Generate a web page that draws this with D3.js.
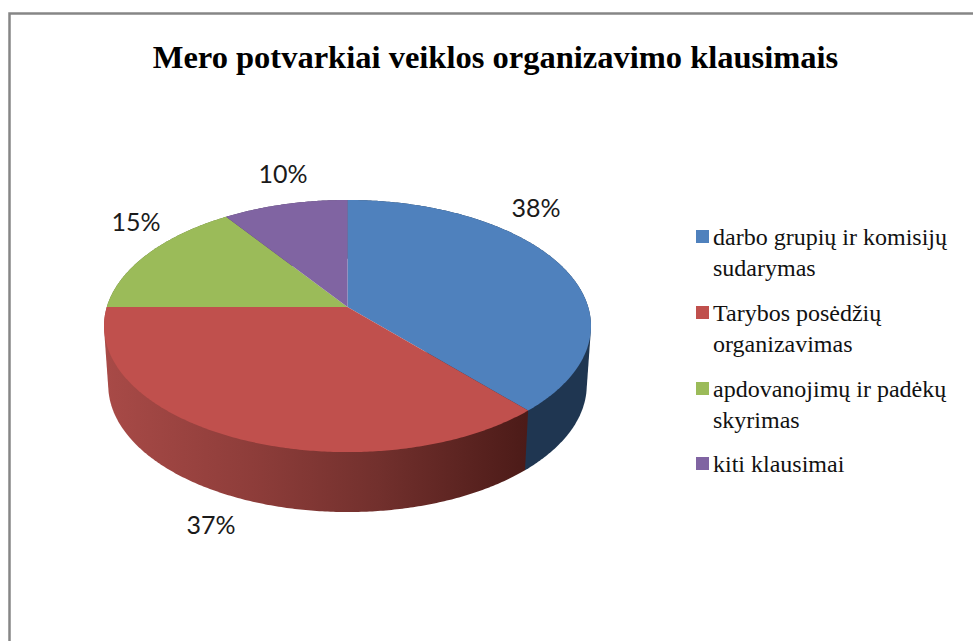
<!DOCTYPE html>
<html>
<head>
<meta charset="utf-8">
<script src="https://cdn.jsdelivr.net/npm/d3@7"></script>
<style>
  html, body { margin: 0; padding: 0; background: #fff; overflow: hidden; }
  svg { display: block; }
</style>
</head>
<body>
<script>
const categorijos = [
  ["darbo grupių ir komisijų", "sudarymas"],
  ["Tarybos posėdžių", "organizavimas"],
  ["apdovanojimų ir padėkų", "skyrimas"],
  ["kiti klausimai"],
];
// read from the slice edges, the labels round them
const reiksmes = [38.4, 36.6, 15.4, 9.6];
const spalvos = ["#4f81bd", "#c0504d", "#9bbb59", "#8064a2"];
const pavadinimas = "Mero potvarkiai veiklos organizavimo klausimais";

function graficar() {
  const w = 973;
  const h = 641;
  const svg = d3.select("body").append("svg").attr("width", w).attr("height", h);

  // chart frame, only top and left sides are inside the picture
  svg.append("path")
    .attr("d", d3.line()([[9.5, h], [9.5, 13.5], [w, 13.5]]))
    .attr("fill", "none")
    .attr("stroke", "#868686")
    .attr("stroke-width", 2.5);

  svg.append("text")
    .attr("x", 495.5)
    .attr("y", 68)
    .attr("text-anchor", "middle")
    .attr("font-family", "Liberation Serif")
    .attr("font-weight", "bold")
    .attr("font-size", 32.5)
    .attr("fill", "#000")
    .text(pavadinimas);

  // perspective: front of the pie is bigger than the back
  const persp = 0.151;
  const sx = d3.scaleLinear().domain([-1, 1]).range([347.5 - 240.7, 347.5 + 240.7]);
  const syTop = d3.scaleLinear().domain([-1, 1]).range([307 + 123.2, 307 - 123.2]);
  const sxBot = d3.scaleLinear().domain([-1, 1]).range([347.5 - 236.5, 347.5 + 236.5]);
  const syBot = d3.scaleLinear().domain([-1, 1]).range([366 + 124, 366 - 124]);

  function taskas(a, scx, scy) {
    const k = 1 + persp * Math.cos(a);
    return [scx(Math.sin(a) / k), scy(Math.cos(a) / k)];
  }
  function kampai(a0, a1) {
    const n = Math.max(2, Math.ceil((a1 - a0) / 0.01));
    return d3.range(n + 1).map((i) => a0 + ((a1 - a0) * i) / n);
  }

  const pie = d3.pie().sort(null);
  const slices = pie(reiksmes);
  const line = d3.line().curve(d3.curveLinear);

  const defs = svg.append("defs");
  const grad = defs.append("linearGradient")
    .attr("id", "raudonas")
    .attr("gradientUnits", "userSpaceOnUse")
    .attr("x1", 104).attr("x2", 526).attr("y1", 0).attr("y2", 0);
  grad.append("stop").attr("offset", "0").attr("stop-color", "#a84a47");
  grad.append("stop").attr("offset", "0.35").attr("stop-color", "#8e3d3a");
  grad.append("stop").attr("offset", "0.65").attr("stop-color", "#72302d");
  grad.append("stop").attr("offset", "1").attr("stop-color", "#4c1b18");

  const sideFill = ["#1f3651", "url(#raudonas)", "#5f7335", "#4c3b62"];

  // side walls back to front, hull keeps the silhouette straight at the sides
  const pagalGyli = slices
    .map((d, i) => ({ d: d, i: i }))
    .sort((a, b) => Math.cos((b.d.startAngle + b.d.endAngle) / 2) - Math.cos((a.d.startAngle + a.d.endAngle) / 2));

  svg.append("g")
    .selectAll("path")
    .data(pagalGyli)
    .enter()
    .append("path")
    .attr("fill", (s) => sideFill[s.i])
    .attr("d", function (s) {
      const a = kampai(s.d.startAngle, s.d.endAngle);
      const virsus = a.map((t) => taskas(t, sx, syTop));
      const apacia = a.map((t) => taskas(t, sxBot, syBot));
      return line(d3.polygonHull(virsus.concat(apacia))) + "Z";
    });

  svg.append("g")
    .selectAll("path")
    .data(slices)
    .enter()
    .append("path")
    .attr("fill", (d, i) => spalvos[i])
    .attr("d", function (d) {
      const a = kampai(d.startAngle, d.endAngle);
      const virsus = a.map((t) => taskas(t, sx, syTop));
      return line([[sx(0), syTop(0)]].concat(virsus)) + "Z";
    });

  // percent labels, placed by hand like the best-fit labels of the original
  const etiketeX = [536, 211, 136, 283];
  const etiketeY = [217, 534, 231, 183];
  svg.append("g")
    .selectAll("text")
    .data(reiksmes)
    .enter()
    .append("text")
    .attr("x", (d, i) => etiketeX[i])
    .attr("y", (d, i) => etiketeY[i])
    .attr("text-anchor", "middle")
    .attr("font-family", "Lato")
    .attr("font-size", 25)
    .attr("fill", "#1a1a1a")
    .text((d) => Math.round(d) + "%");

  // legend
  const legY = [230, 306, 382, 457];
  const leg = svg.append("g")
    .selectAll("g")
    .data(categorijos)
    .enter()
    .append("g")
    .attr("transform", (d, i) => "translate(696," + legY[i] + ")");

  leg.append("rect")
    .attr("width", 13)
    .attr("height", 13)
    .attr("fill", (d, i) => spalvos[i]);

  leg.selectAll("text")
    .data((d) => d)
    .enter()
    .append("text")
    .attr("x", 17)
    .attr("y", (d, i) => 15 + i * 31)
    .attr("font-family", "Liberation Serif")
    .attr("font-size", 24)
    .attr("fill", "#111")
    .text((d) => d);
}

graficar();
</script>
</body>
</html>
